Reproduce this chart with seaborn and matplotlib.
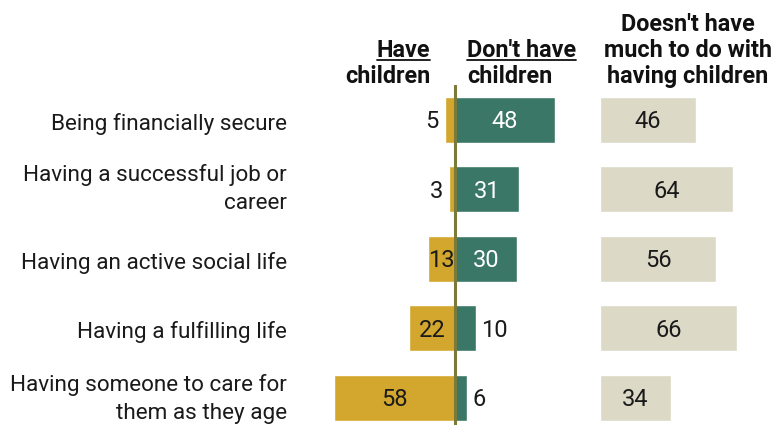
import matplotlib
matplotlib.use("Agg")
import matplotlib.pyplot as plt
from matplotlib.lines import Line2D
from matplotlib.transforms import blended_transform_factory
import seaborn as sns
import pandas as pd

# Survey items and shares (%)
categories = [
    "Being financially secure",
    "Having a successful job or\ncareer",
    "Having an active social life",
    "Having a fulfilling life",
    "Having someone to care for\nthem as they age",
]
have_children = [5, 3, 13, 22, 58]
dont_have_children = [48, 31, 30, 10, 6]
not_much_to_do = [46, 64, 56, 66, 34]

GOLD = "#D3A62D"
TEAL = "#3A7766"
BEIGE = "#DCD9C7"
OLIVE = "#7C7A3A"
INK = "#1a1a1a"

sns.set_theme(style="white")
plt.rcParams["font.family"] = ["Roboto", "DejaVu Sans"]

W, H = 776, 425
fig = plt.figure(figsize=(W / 100, H / 100), dpi=100)

PX_PER_UNIT = 2.08
top_px = 85
ax1_left, ax1_right = 300, 590
ax2_left, ax2_right = 600, 776
center_px = 455

ax1 = fig.add_axes([ax1_left / W, 0, (ax1_right - ax1_left) / W, (H - top_px) / H])
ax2 = fig.add_axes([ax2_left / W, 0, (ax2_right - ax2_left) / W, (H - top_px) / H])

df = pd.DataFrame({
    "item": categories,
    "have": [-v for v in have_children],
    "dont": dont_have_children,
    "none": not_much_to_do,
})

bar_w = 0.66
sns.barplot(data=df, x="have", y="item", orient="h", color=GOLD, width=bar_w,
            saturation=1, ax=ax1)
sns.barplot(data=df, x="dont", y="item", orient="h", color=TEAL, width=bar_w,
            saturation=1, ax=ax1)
sns.barplot(data=df, x="none", y="item", orient="h", color=BEIGE, width=bar_w,
            saturation=1, ax=ax2)

row_px = 69.5
y_bottom = -0.5 + (H - top_px) / row_px
for ax in (ax1, ax2):
    ax.set_ylim(y_bottom, -0.5)
    ax.set_xlabel("")
    ax.set_ylabel("")
    ax.set_xticks([])
    ax.set_yticks([])
    for s in ax.spines.values():
        s.set_visible(False)
    ax.patch.set_alpha(0)

ax1.set_xlim(-(center_px - ax1_left) / PX_PER_UNIT, (ax1_right - center_px) / PX_PER_UNIT)
ax2.set_xlim(0, (ax2_right - ax2_left) / PX_PER_UNIT)

# Row labels, right-aligned just left of the bar area
row_tr = blended_transform_factory(ax1.transAxes, ax1.transData)
for i, cat in enumerate(categories):
    two_line = "\n" in cat
    dy = (-1 if i == len(categories) - 1 else 0) if two_line else -3
    ax1.annotate(cat, (0, i), xycoords=row_tr, xytext=(-9.5, dy),
                 textcoords="offset points", ha="right", va="center",
                 multialignment="right", linespacing=1.42,
                 fontsize=16.2, color=INK, annotation_clip=False)

ax1.axvline(0, color=OLIVE, lw=2.2, zorder=5)

fs = 17
drop = -6  # points: puts digit centres on the bar centre line


def put(ax, x, y, s, dx, ha, color):
    ax.annotate(s, (x, y), xytext=(dx, drop), textcoords="offset points",
                ha=ha, va="baseline", fontsize=fs, color=color, zorder=6)


for i, (h, d, n) in enumerate(zip(have_children, dont_have_children, not_much_to_do)):
    if h >= 12:
        put(ax1, -h / 2, i, str(h), 0, "center", INK)
    else:
        put(ax1, -h, i, str(h), -4, "right", INK)
    if d >= 12:
        put(ax1, d / 2, i, str(d), 0, "center", "white")
    else:
        put(ax1, d, i, str(d), 3.5, "left", INK)
    put(ax2, n / 2, i, str(n), 0, "center", INK)


# Column headers
def fy(px):
    return 1 - px / H


hdr = dict(fontsize=16.8, fontweight="bold", color="#111111", va="baseline")
t_have = fig.text(430 / W, fy(57), "Have", ha="right", **hdr)
fig.text(430 / W, fy(83), "children", ha="right", **hdr)
t_dont = fig.text(467 / W, fy(57), "Don't have", ha="left", **hdr)
fig.text(467 / W, fy(83), "children", ha="left", **hdr)
for k, line in enumerate(["Doesn't have", "much to do with", "having children"]):
    fig.text(688 / W, fy(31 + 26 * k), line, ha="center", **hdr)

fig.canvas.draw()
renderer = fig.canvas.get_renderer()
for t in (t_have, t_dont):
    bb = t.get_window_extent(renderer)
    y = (H - 59.5)
    fig.add_artist(Line2D([bb.x0 / W, bb.x1 / W], [y / H, y / H],
                          transform=fig.transFigure, color="#111111", lw=1.3))

fig.savefig("out.png", dpi=100)
